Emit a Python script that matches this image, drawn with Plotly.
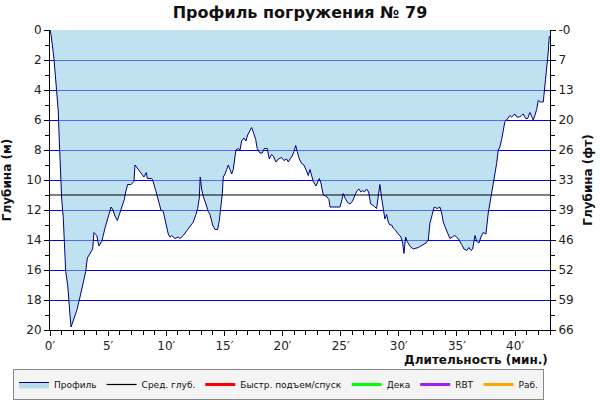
import plotly.graph_objects as go

# ---- data ----
time_min = [0.0, 0.09, 0.34, 0.58, 0.71, 0.80, 0.89, 1.0, 1.14, 1.23, 1.35, 1.52, 1.61, 1.72, 1.81,
            2.0, 2.3, 2.58, 2.86, 3.07, 3.21, 3.44, 3.67, 3.78, 4.02, 4.21, 4.45, 4.73, 5.01, 5.25,
            5.42, 5.59, 5.79, 6.02, 6.22, 6.39, 6.51, 6.68, 6.96, 7.22, 7.31, 7.59, 7.94, 8.08, 8.28,
            8.37, 8.74, 8.83, 9.09, 9.23, 9.4, 9.54, 9.74, 9.97, 10.17, 10.32, 10.46, 10.75, 11.03,
            11.18, 11.46, 11.75, 12.04, 12.32, 12.55, 12.7, 12.84, 12.92, 13.04, 13.18, 13.41, 13.61,
            13.76, 13.99, 14.19, 14.42, 14.56, 14.70, 14.82, 14.90, 15.05, 15.19, 15.33, 15.48, 15.62,
            15.76, 15.91, 15.99, 16.19, 16.34, 16.48, 16.68, 16.85, 17.0, 17.2, 17.34, 17.48, 17.69,
            17.82, 18.06, 18.25, 18.43, 18.68, 18.86, 19.06, 19.2, 19.43, 19.63, 19.92, 20.12, 20.35,
            20.49, 20.64, 20.83, 20.98, 21.13, 21.26, 21.44, 21.64, 21.84, 22.01, 22.21, 22.36, 22.5,
            22.64, 22.87, 23.02, 23.16, 23.3, 23.5, 23.79, 23.99, 24.08, 24.36, 24.94, 25.08, 25.22,
            25.37, 25.6, 25.8, 26.03, 26.23, 26.42, 26.57, 26.72, 26.89, 27.03, 27.23, 27.4, 27.58,
            27.8, 28.09, 28.23, 28.37, 28.52, 28.66, 28.8, 28.95, 29.09, 29.23, 29.38, 29.52, 29.66,
            29.95, 30.18, 30.33, 30.44, 30.58, 30.72, 30.95, 31.24, 31.67, 31.87, 32.1, 32.33, 32.53,
            32.67, 32.87, 33.04, 33.3, 33.53, 33.68, 33.82, 34.02, 34.25, 34.39, 34.59, 34.76, 34.97,
            35.19, 35.4, 35.6, 35.83, 36.03, 36.2, 36.35, 36.55, 36.7, 36.89, 37.06, 37.26, 37.49,
            37.69, 37.83, 37.98, 38.12, 38.26, 38.41, 38.55, 38.69, 38.84, 38.98, 39.12, 39.27, 39.41,
            39.55, 39.7, 39.84, 39.98, 40.13, 40.35, 40.56, 40.7, 40.9, 41.08, 41.27, 41.42, 41.56,
            41.7, 41.85, 41.99, 42.2, 42.42, 42.51, 42.63, 42.72, 42.81, 42.86, 42.92, 42.95]
depth_m = [0.0, 0.3, 1.9, 4.3, 5.4, 7.4, 9.2, 11.2, 12.5, 14.1, 16.1, 17.0, 18.3, 19.0, 19.8,
           19.4, 18.7, 17.8, 16.8, 16.1, 15.2, 14.9, 14.6, 13.5, 13.7, 14.4, 14.1, 13.2, 12.4, 11.8,
           12.0, 12.4, 12.7, 12.1, 11.7, 11.3, 10.8, 10.3, 10.3, 10.1, 9.0, 9.3, 9.7, 9.8, 9.5,
           9.9, 9.9, 10.0, 10.7, 11.1, 11.7, 12.0, 12.1, 12.9, 13.6, 13.8, 13.7, 13.9, 13.8,
           13.9, 13.7, 13.4, 13.1, 12.8, 12.3, 11.9, 11.2, 9.8, 10.6, 11.1, 11.6, 12.1,
           12.3, 13.0, 13.3, 13.3, 12.7, 11.8, 10.9, 9.8, 9.6, 9.3, 9.0, 9.3, 9.6,
           9.3, 8.6, 8.0, 7.9, 8.0, 7.4, 7.2, 7.4, 7.0, 6.7, 6.5, 6.8, 7.3,
           7.9, 8.2, 8.2, 7.9, 7.9, 8.6, 8.3, 8.4, 8.8, 8.6, 8.5, 8.7, 8.6,
           8.8, 8.6, 8.4, 8.1, 7.7, 8.1, 8.6, 8.9, 9.0, 9.3, 9.7, 9.3, 9.8,
           10.1, 10.4, 10.1, 9.9, 10.2, 11.0, 11.1, 11.3, 11.8, 11.8, 11.8, 11.4, 10.9,
           11.2, 11.5, 11.6, 11.4, 11.0, 10.7, 10.6, 10.8, 10.7, 10.8, 10.6, 10.8, 11.6,
           11.7, 11.9, 11.1, 10.3, 11.2, 12.0, 12.6, 12.3, 12.8, 13.0, 13.0, 13.2, 13.3,
           13.6, 13.8, 14.2, 14.9, 13.8, 14.1, 14.4, 14.6, 14.5, 14.4, 14.3, 14.2, 14.0,
           12.9, 12.3, 11.8, 11.9, 11.8, 12.2, 12.8, 13.2, 13.7, 13.9, 13.8, 13.7, 13.8,
           14.0, 14.3, 14.6, 14.7, 14.5, 14.7, 14.6, 13.7, 14.1, 14.2, 13.8, 13.5, 13.6,
           12.2, 11.6, 10.9, 10.2, 9.6, 8.9, 8.0, 7.8, 7.3, 6.6, 6.1, 6.0, 5.8,
           5.7, 5.8, 5.7, 5.6, 5.8, 5.8, 5.7, 5.6, 5.9, 5.9, 5.5, 5.8, 6.0,
           5.7, 5.3, 4.7, 4.8, 4.8, 4.1, 3.2, 2.3, 2.0, 1.4, 0.6, 0.4]
avg_depth_m = 11.0
x_max_min = 43
depth_tick_m = [0, 2, 4, 6, 8, 10, 12, 14, 16, 18, 20]
feet_tick_labels = ["-0", "7", "13", "20", "26", "33", "39", "46", "52", "59", "66"]
legend_names = ["Профиль", "Сред. глуб.", "Быстр. подъем/спуск", "Дека", "RBT", "Раб."]
legend_colors = ["#000080", "#000000", "#ff0000", "#00ff00", "#a020f0", "#ffa500"]

FONT = "DejaVu Sans"
fig = go.Figure()

# baseline (surface) for fill
fig.add_trace(go.Scatter(x=[0, x_max_min], y=[0, 0], mode="lines",
                         line=dict(width=0, color="rgba(0,0,0,0)"),
                         showlegend=False, hoverinfo="skip"))
# profile
fig.add_trace(go.Scatter(x=time_min, y=depth_m, mode="lines", name=legend_names[0],
                         line=dict(color=legend_colors[0], width=1.0),
                         fill="tonexty", fillcolor="rgba(140,200,228,0.55)"))
# average depth
fig.add_trace(go.Scatter(x=[0, x_max_min], y=[avg_depth_m, avg_depth_m], mode="lines",
                         name=legend_names[1], line=dict(color=legend_colors[1], width=1.2)))
# legend-only entries
for nm, col in zip(legend_names[2:], legend_colors[2:]):
    fig.add_trace(go.Scatter(x=[None], y=[None], mode="lines", name=nm,
                             line=dict(color=col, width=3)))

# invisible trace to activate right axis
fig.add_trace(go.Scatter(x=[None], y=[None], yaxis="y2", showlegend=False))

axis_font = dict(family=FONT, size=12, color="#222")
title_font = dict(family=FONT, size=12, color="#111")
fig.update_layout(
    width=600, height=400,
    margin=dict(l=50, r=50, t=30, b=70, autoexpand=False),
    paper_bgcolor="white", plot_bgcolor="white",
    title=dict(text="<b>Профиль погружения № 79</b>", x=0.5, xanchor="center",
               y=0.97, yanchor="middle", font=dict(family=FONT, size=16, color="#111")),
    xaxis=dict(range=[0, x_max_min], tick0=0, dtick=5, ticksuffix="′", automargin=False,
               showgrid=False, zeroline=False, showline=True, linecolor="black", linewidth=1,
               ticks="outside", ticklen=5, tickcolor="black", tickfont=axis_font,
               minor=dict(dtick=1, tick0=0, ticks="outside", ticklen=4, tickcolor="black", showgrid=False)),
    yaxis=dict(range=[20, 0], tickmode="array", tickvals=depth_tick_m, automargin=False,
               showgrid=True, gridcolor="#0000ff", gridwidth=1, zeroline=False,
               showline=True, linecolor="black", linewidth=1,
               ticks="outside", ticklen=5, tickcolor="black", tickfont=axis_font,
               minor=dict(dtick=1, tick0=0, ticks="outside", ticklen=4, tickcolor="black", showgrid=False),
               title=dict(text="<b>Глубина (м)</b>", font=title_font, standoff=12)),
    yaxis2=dict(range=[20, 0], overlaying="y", side="right", tickmode="array",
                tickvals=depth_tick_m, ticktext=feet_tick_labels, automargin=False,
                showgrid=False, zeroline=False, showline=True, linecolor="black", linewidth=1,
                ticks="outside", ticklen=5, tickcolor="black", tickfont=axis_font,
                minor=dict(dtick=1, tick0=0, ticks="outside", ticklen=4, tickcolor="black", showgrid=False),
                title=dict(text="<b>Глубина (фт)</b>", font=title_font, standoff=10)),
    legend=dict(orientation="h", x=-0.074, xanchor="left", y=-0.13, yanchor="top",
                bgcolor="#f4f4f4", bordercolor="#888", borderwidth=1, traceorder="normal",
                font=dict(family=FONT, size=9, color="#111"), itemwidth=30,
                tracegroupgap=0),
    annotations=[dict(text="<b>Длительность (мин.)</b>", xref="paper", yref="paper",
                      x=1.0, y=-0.07, xanchor="right", yanchor="top", showarrow=False,
                      font=title_font)],
    showlegend=True,
)

fig.write_html("out.html", config={"displayModeBar": False},
               post_script="document.body.style.margin='0';document.body.style.overflow='hidden';")
